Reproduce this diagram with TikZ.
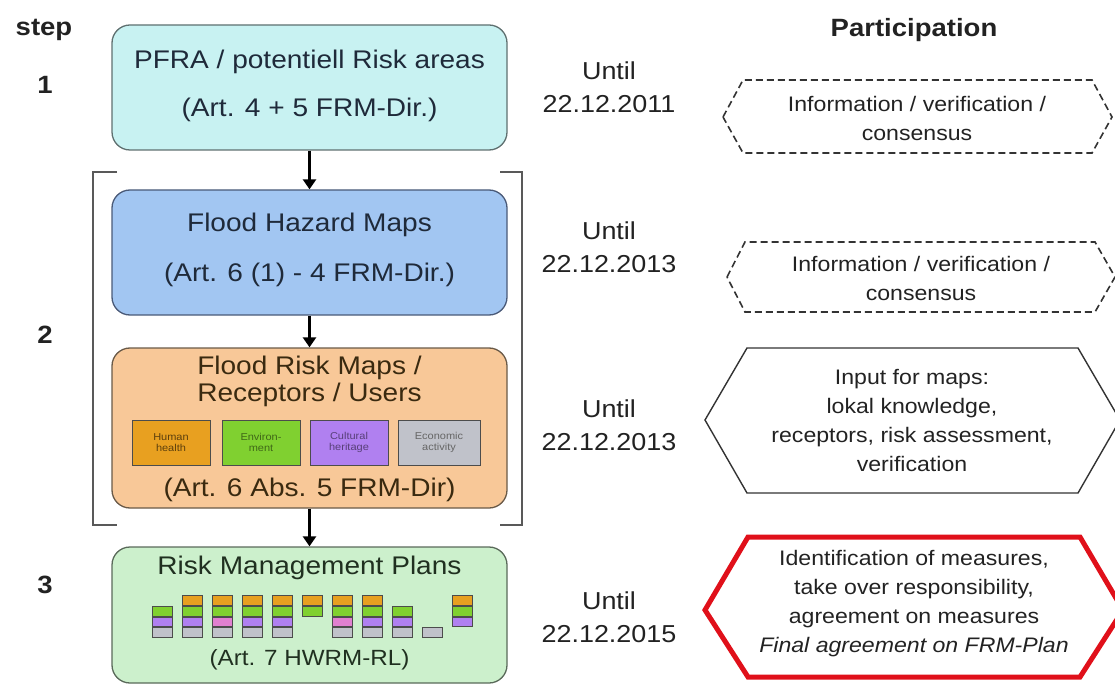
\documentclass[tikz,border=0pt]{standalone}
\usepackage{fontspec}
\setmainfont[FakeStretch=1.1]{Liberation Sans}
\usetikzlibrary{arrows.meta}
\definecolor{cyanfill}{HTML}{C8F2F2}
\definecolor{cyanline}{HTML}{5F7070}
\definecolor{bluefill}{HTML}{A2C6F2}
\definecolor{blueline}{HTML}{4A5A78}
\definecolor{orafill}{HTML}{F8C898}
\definecolor{oraline}{HTML}{6A5A48}
\definecolor{grnfill}{HTML}{CCF0CC}
\definecolor{grnline}{HTML}{5A6A5A}
\definecolor{txtblue}{HTML}{1F2A3A}
\definecolor{txtbrown}{HTML}{3A2A10}
\definecolor{txtgreen}{HTML}{203020}
\definecolor{txtgray}{HTML}{222222}
\definecolor{hexred}{HTML}{E0101A}
\definecolor{cOra}{HTML}{E8A020}
\definecolor{cGrn}{HTML}{80D030}
\definecolor{cPur}{HTML}{B080F0}
\definecolor{cGry}{HTML}{C0C2CA}
\definecolor{cPnk}{HTML}{E080D0}
\begin{document}
\begin{tikzpicture}[x=1pt,y=-1pt,
  stagebox/.style={rounded corners=18pt, minimum width=395pt, line width=1.3pt, inner sep=0pt},
  boxtxt/.style={font=\fontsize{25.5}{28}\selectfont, inner sep=0pt},
  datetxt/.style={font=\fontsize{24.5}{33}\selectfont, align=center, text=txtgray, inner sep=0pt},
  steptxt/.style={font=\bfseries\fontsize{25}{28}\selectfont, text=txtgray, inner sep=0pt},
  parttxt/.style={font=\fontsize{21}{29}\selectfont, align=center, text=txtgray, inner sep=0pt},
  arr/.style={line width=2.6pt, -{Triangle[length=10pt,width=13pt]}},
  brack/.style={draw=black!65, line width=1.3pt},
  hexdash/.style={draw=black!80, line width=1.6pt, dash pattern=on 7pt off 4pt},
  hexsolid/.style={draw=black!80, line width=1.4pt},
  hexred/.style={draw=hexred, line width=5pt, line join=miter},
  recbox/.style={draw=black!70, line width=0.8pt, minimum width=78pt, minimum height=45pt, inner sep=1pt, font=\fontsize{10}{11}\selectfont, align=center},
  bar/.style={draw=black!70, line width=0.6pt}
]
\useasboundingbox (0,0) rectangle (1115,684);
\clip (0,0) rectangle (1115,684);

% step labels
\node[steptxt] (s0) at (44,30) {step};
\node[steptxt] (s1) at (45,85) {1};
\node[steptxt] (s2) at (45,335) {2};
\node[steptxt] (s3) at (45,585) {3};
\node[steptxt] (part) at (914,30) {Participation};

% bracket for step 2
\draw[brack] (117,172) -- (93,172) -- (93,525) -- (117,525);
\draw[brack] (500,172) -- (522,172) -- (522,525) -- (500,525);

% stage boxes
\node[stagebox, fill=cyanfill, draw=cyanline, minimum height=125pt] (b1) at (309.5,87.5) {};
\node[boxtxt, text=txtblue] (t1a) at (309.5,62) {PFRA / potentiell Risk areas};
\node[boxtxt, text=txtblue] (t1b) at (309.5,110) {(Art. 4 + 5 FRM-Dir.)};

\node[stagebox, fill=bluefill, draw=blueline, minimum height=125pt] (b2) at (309.5,252.5) {};
\node[boxtxt, text=txtblue] (t2a) at (309.5,225) {Flood Hazard Maps};
\node[boxtxt, text=txtblue] (t2b) at (309.5,275) {(Art. 6 (1) - 4 FRM-Dir.)};

\node[stagebox, fill=orafill, draw=oraline, minimum height=160pt] (b3) at (309.5,428) {};
\node[boxtxt, text=txtbrown] (t3a) at (309.5,368) {Flood Risk Maps /};
\node[boxtxt, text=txtbrown] (t3b) at (309.5,395) {Receptors / Users};
\node[recbox, fill=cOra, text=black!60!cOra] (r1) at (171,442.5) {Human\\health};
\node[recbox, fill=cGrn, text=black!50!cGrn] (r2) at (261,442.5) {Environ-\\ment};
\node[recbox, fill=cPur, text=black!50!cPur] (r3) at (349,442.5) {Cultural\\heritage};
\node[recbox, fill=cGry, text=black!60, minimum width=82pt] (r4) at (439,442.5) {Economic\\activity};
\node[boxtxt, text=txtbrown] (t3c) at (309.5,490) {(Art. 6 Abs. 5 FRM-Dir)};

\node[stagebox, fill=grnfill, draw=grnline, minimum height=136pt] (b4) at (309.5,615) {};
\node[boxtxt, text=txtgreen] (t4a) at (309.5,568) {Risk Management Plans};
\node[boxtxt, text=txtgreen, font=\fontsize{22}{24}\selectfont] (t4b) at (309.5,660) {(Art. 7 HWRM-RL)};

% plan bars
\foreach \cx/\rows in {162/{1,2,3}, 192/{0,1,2,3}, 222/{0,1,4,3}, 252/{0,1,2,3}, 282/{0,1,2,3}, 312/{0,1}, 342/{0,1,4,3}, 372/{0,1,2,3}, 402/{1,2,3}, 432/{3}, 462/{0,1,2}} {
  \foreach \r in \rows {
    \ifnum\r=0 \def\bc{cOra}\def\ya{595}\def\yb{605}\fi
    \ifnum\r=1 \def\bc{cGrn}\def\ya{606}\def\yb{616}\fi
    \ifnum\r=2 \def\bc{cPur}\def\ya{617}\def\yb{626}\fi
    \ifnum\r=4 \def\bc{cPnk}\def\ya{617}\def\yb{626}\fi
    \ifnum\r=3 \def\bc{cGry}\def\ya{627}\def\yb{637}\fi
    \filldraw[bar, fill=\bc] (\cx-10,\ya) rectangle (\cx+10,\yb);
  }
}

% arrows
\draw[arr] (b1) -- (b2);
\draw[arr] (b2) -- (b3);
\draw[arr] (b3) -- (b4);

% dates
\node[datetxt] (d1) at (609,87) {Until\\22.12.2011};
\node[datetxt] (d2) at (609,247) {Until\\22.12.2013};
\node[datetxt] (d3) at (609,425) {Until\\22.12.2013};
\node[datetxt] (d4) at (609,617) {Until\\22.12.2015};

% participation hexagons
\draw[hexdash] (723,117) -- (743,80) -- (1092,80) -- (1112,117) -- (1092,153) -- (743,153) -- cycle;
\node[parttxt] (p1) at (917,118) {Information / verification /\\consensus};
\draw[hexdash] (727,277) -- (745,242) -- (1095,242) -- (1115,277) -- (1095,312) -- (745,312) -- cycle;
\node[parttxt] (p2) at (921,278) {Information / verification /\\consensus};
\draw[hexsolid] (705,420) -- (747,348) -- (1078,348) -- (1120,420) -- (1078,493) -- (747,493) -- cycle;
\node[parttxt] (p3) at (912,421) {Input for maps:\\lokal knowledge,\\receptors, risk assessment,\\verification};
\draw[hexred] (705,610) -- (748,537) -- (1080,537) -- (1123,610) -- (1080,677) -- (748,677) -- cycle;
\node[parttxt] (p4) at (914,604) {Identification of measures,\\take over responsibility,\\agreement on measures\\\textit{Final agreement on FRM-Plan}};
\end{tikzpicture}
\end{document}
